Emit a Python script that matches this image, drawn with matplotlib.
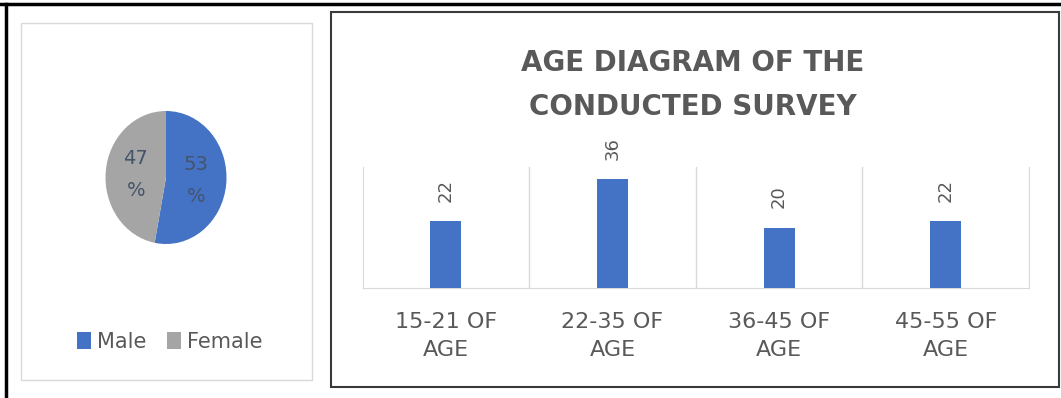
import matplotlib
matplotlib.use('Agg')
import matplotlib.pyplot as plt
from matplotlib.patches import Rectangle
from matplotlib.lines import Line2D

# pie data
gender = ['Male', 'Female']
gender_share = [53, 47]

# bar data
age_groups = ['15-21 OF\nAGE', '22-35 OF\nAGE', '36-45 OF\nAGE', '45-55 OF\nAGE']
age_counts = [22, 36, 20, 22]

BLUE = '#4472C4'
GRAY = '#A5A5A5'
TXT = '#595959'
W, H = 1061, 398

plt.rcParams['font.family'] = ['DejaVu Sans']
fig = plt.figure(figsize=(W / 100, H / 100), dpi=100)

def fx(px):
    return px / W

def fy(py):
    return 1 - py / H

# frames
fig.add_artist(Line2D([0, 1], [fy(4), fy(4)], color='black', lw=2.5, transform=fig.transFigure))
fig.add_artist(Line2D([fx(6), fx(6)], [fy(4), 0], color='black', lw=2.5, transform=fig.transFigure))
fig.add_artist(Rectangle((fx(21), fy(380)), fx(312 - 21), (380 - 23) / H, transform=fig.transFigure,
                         fill=False, edgecolor='#d9d9d9', lw=1))
fig.add_artist(Rectangle((fx(331), fy(387)), fx(1059 - 331), (387 - 12) / H, transform=fig.transFigure,
                         fill=False, edgecolor='#3a3a3a', lw=1.5))

# pie
ax1 = fig.add_axes([fx(105.5), fy(244), fx(121), 133 / H])
wedges, texts, autotexts = ax1.pie(gender_share, colors=[BLUE, GRAY], startangle=90, counterclock=False,
                                   autopct=lambda p: f'{p:.0f}\n%', pctdistance=0.5,
                                   textprops=dict(fontsize=14, color='#44546A', linespacing=1.9))
ax1.set_aspect('auto')
ax1.set_xlim(-1, 1)
ax1.set_ylim(-1, 1)
ax1.axis('off')

leg = fig.legend(wedges, gender, loc='center', bbox_to_anchor=(fx(170), fy(342)), ncol=2, frameon=False,
                 fontsize=15, handlelength=0.65, handleheight=0.9, handletextpad=0.3, columnspacing=1.0)
for t in leg.get_texts():
    t.set_color(TXT)

# bars
ax2 = fig.add_axes([fx(362.6), fy(288), fx(1029 - 362.6), (288 - 167) / H])
x = range(len(age_groups))
bars = ax2.bar(x, age_counts, width=0.186, color=BLUE, zorder=3)
for b, v in zip(bars, age_counts):
    ax2.annotate(str(v), (b.get_x() + b.get_width() / 2, v), xytext=(0, 14), textcoords='offset points',
                 rotation=90, ha='center', va='bottom', fontsize=13, color=TXT)
ax2.set_xlim(-0.5, len(age_groups) - 0.5)
ax2.set_ylim(0, 40)
for xv in [0.5, 1.5, 2.5]:
    ax2.axvline(xv, color='#d9d9d9', lw=1, zorder=1)
for s in ['left', 'right', 'bottom']:
    ax2.spines[s].set_color('#d9d9d9')
ax2.spines['top'].set_visible(False)
ax2.set_yticks([])
ax2.set_xticks(list(x))
ax2.set_xticklabels(age_groups, fontsize=16, color=TXT, linespacing=1.5)
ax2.tick_params(axis='x', length=0, pad=17)

fig.text(fx(693), fy(85), 'AGE DIAGRAM OF THE\nCONDUCTED SURVEY', ha='center', va='center',
         fontsize=20, fontweight='bold', color=TXT, linespacing=1.7)

fig.savefig('out.png', dpi=100)
